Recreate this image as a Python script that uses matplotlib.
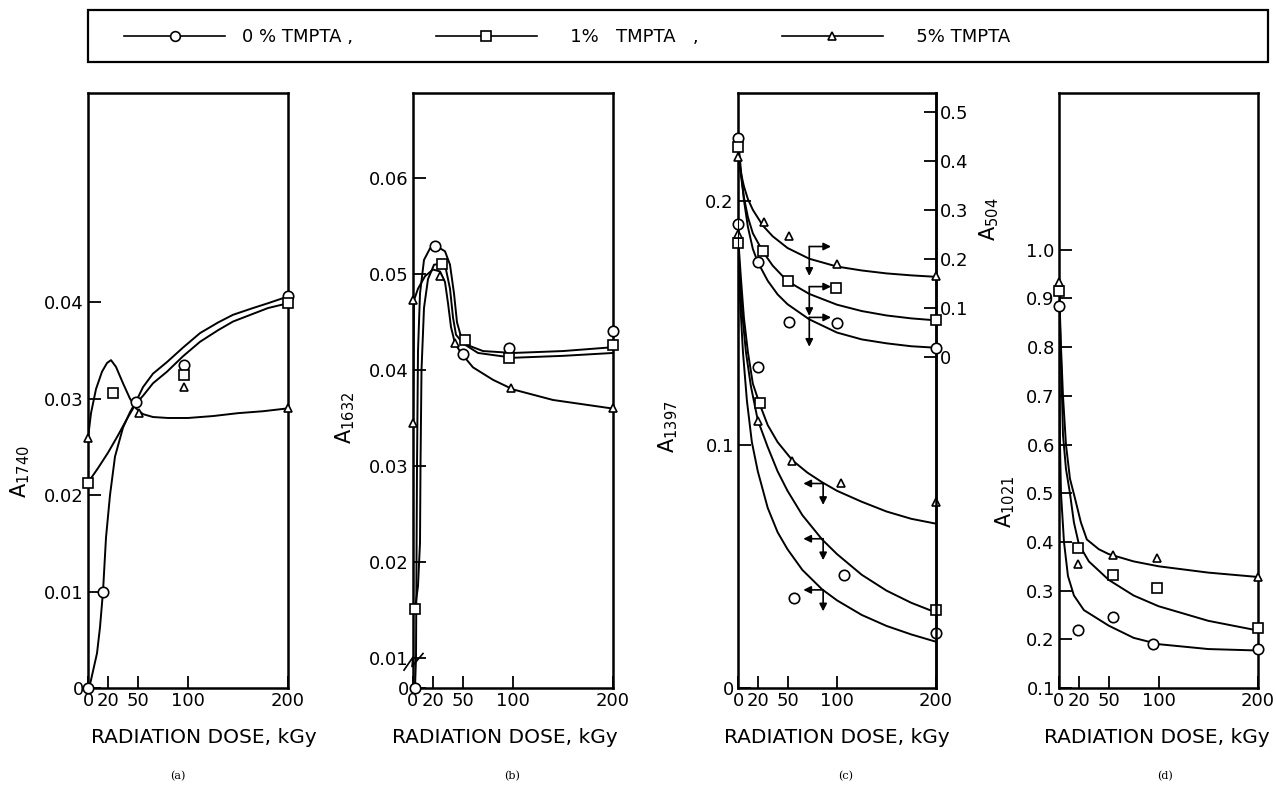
"""
Absorbance vs radiation dose for 0, 1 and 5 % TMPTA, four FTIR bands.
"""
import numpy as np
import matplotlib.pyplot as plt
from matplotlib.lines import Line2D
from matplotlib.patches import Rectangle

plt.rcParams['font.family'] = ['DejaVu Sans']

dose_ticks = [0, 20, 50, 100, 200]
dose_labels = ['0', '20', '50', '100', '200']
legend_labels = ['0 % TMPTA ,', '   1%   TMPTA   ,', '   5% TMPTA']
xlabel = 'RADIATION DOSE, kGy'

# ==============================================================================
# (a) A1740
# ==============================================================================
a_circ_x = [0, 15, 48, 96, 200]
a_circ_y = [0.0, 0.0100, 0.0297, 0.0335, 0.0406]
a_sq_x = [0, 25, 96, 200]
a_sq_y = [0.0213, 0.0306, 0.0325, 0.0399]
a_tri_x = [0, 51, 96, 200]
a_tri_y = [0.0259, 0.0285, 0.0312, 0.0290]

a_circ_fit_x = [0, 2.5, 9, 12, 15, 18, 22, 27, 35, 42, 48, 55, 65, 79, 95, 112, 130, 145, 165, 180, 200]
a_circ_fit_y = [0, 0.0006, 0.0036, 0.0063, 0.0100, 0.0156, 0.0200, 0.0240, 0.0270, 0.0286, 0.0297,
                0.0312, 0.0326, 0.0338, 0.0353, 0.0368, 0.0379, 0.0387, 0.0394, 0.0399, 0.0406]
a_sq_fit_x = [0, 10, 20, 30, 40, 48, 55, 65, 79, 95, 112, 130, 145, 165, 180, 200]
a_sq_fit_y = [0.0213, 0.0228, 0.0244, 0.0262, 0.0281, 0.0295, 0.0303, 0.0316, 0.0328, 0.0344,
              0.0359, 0.0371, 0.0380, 0.0388, 0.0394, 0.0399]
a_tri_fit_x = [0, 3, 8, 14, 19, 23, 28, 35, 42, 48, 55, 65, 80, 100, 125, 150, 175, 200]
a_tri_fit_y = [0.0259, 0.0285, 0.0310, 0.0328, 0.0337, 0.0340, 0.0333, 0.0316, 0.0300, 0.0290,
               0.0284, 0.0281, 0.0280, 0.0280, 0.0282, 0.0285, 0.0287, 0.0290]

# ==============================================================================
# (b) A1632  (axis broken between 0 and 0.01)
# ==============================================================================
b_circ_x = [2, 22, 50, 96, 200]
b_circ_y = [0.0, 0.0530, 0.0417, 0.0423, 0.0441]
b_sq_x = [2, 29, 52, 96, 200]
b_sq_y = [0.0151, 0.0511, 0.0431, 0.0413, 0.0426]
b_tri_x = [0, 0, 27, 42, 98, 200]
b_tri_y = [0.0345, 0.0473, 0.0498, 0.0428, 0.0381, 0.0361]

b_circ_fit_x = [2, 3, 4, 5, 7, 11, 17, 24, 32, 37, 41, 44, 48, 55, 70, 100, 150, 200]
b_circ_fit_y = [0.0, 0.010, 0.030, 0.042, 0.048, 0.0515, 0.0527, 0.0529, 0.0524, 0.0510, 0.0480,
                0.0450, 0.0435, 0.0426, 0.0420, 0.0418, 0.0420, 0.0424]
b_sq_fit_x = [2, 5, 7, 7.5, 8.5, 11, 15, 21, 28, 33, 37, 40, 43, 50, 65, 100, 150, 200]
b_sq_fit_y = [0.0151, 0.0175, 0.022, 0.030, 0.040, 0.0465, 0.0495, 0.0510, 0.0511, 0.0505, 0.0485,
              0.0455, 0.0437, 0.0428, 0.0418, 0.0413, 0.0415, 0.0418]
b_tri_fit_x = [0, 0.5, 1, 5, 12, 20, 27, 32, 35, 38, 42, 48, 60, 80, 100, 140, 200]
b_tri_fit_y = [0.0345, 0.040, 0.0473, 0.0485, 0.0498, 0.0505, 0.0503, 0.0492, 0.0470, 0.0445,
               0.0428, 0.0418, 0.0403, 0.0390, 0.0380, 0.0369, 0.0360]

# ==============================================================================
# (c) A1397 (left axis, lower curves) and A504 (right axis, upper curves)
# ==============================================================================
c_lo_circ_x = [0, 20, 57, 107, 200]
c_lo_circ_y = [0.1905, 0.1317, 0.037, 0.0465, 0.0226]
c_lo_sq_x = [0, 22, 200]
c_lo_sq_y = [0.1827, 0.117, 0.032]
c_lo_tri_x = [0, 20, 55, 104, 200]
c_lo_tri_y = [0.1864, 0.1095, 0.0934, 0.0843, 0.0765]

c_lo_tri_fit_x = [0, 3, 6, 10, 15, 22, 30, 40, 55, 70, 85, 100, 125, 150, 175, 200]
c_lo_tri_fit_y = [0.186, 0.168, 0.152, 0.138, 0.125, 0.1165, 0.108, 0.101, 0.0935, 0.0885,
                  0.0845, 0.081, 0.0765, 0.0725, 0.0695, 0.0675]
c_lo_sq_fit_x = [0, 4, 8, 13, 20, 30, 40, 50, 65, 85, 100, 125, 150, 175, 200]
c_lo_sq_fit_y = [0.183, 0.155, 0.138, 0.124, 0.110, 0.099, 0.089, 0.081, 0.071, 0.061, 0.055,
                 0.0465, 0.040, 0.035, 0.031]
c_lo_circ_fit_x = [0, 2, 5, 9, 14, 20, 30, 40, 50, 65, 85, 100, 125, 150, 175, 200]
c_lo_circ_fit_y = [0.180, 0.160, 0.138, 0.118, 0.101, 0.089, 0.074, 0.064, 0.057, 0.0485, 0.0405,
                   0.036, 0.030, 0.0255, 0.022, 0.019]

c_up_circ_x = [0, 20, 52, 100, 200]
c_up_circ_y = [0.447, 0.193, 0.070, 0.069, 0.018]
c_up_sq_x = [0, 25, 51, 99, 200]
c_up_sq_y = [0.428, 0.215, 0.154, 0.141, 0.074]
c_up_tri_x = [0, 26, 52, 100, 200]
c_up_tri_y = [0.408, 0.275, 0.246, 0.189, 0.164]

c_up_circ_fit_x = [0, 3, 6, 10, 15, 20, 30, 40, 50, 72, 100, 125, 150, 175, 200]
c_up_circ_fit_y = [0.447, 0.38, 0.32, 0.265, 0.22, 0.193, 0.155, 0.127, 0.107, 0.076, 0.049,
                   0.035, 0.027, 0.021, 0.018]
c_up_sq_fit_x = [0, 3, 6, 10, 15, 25, 35, 50, 72, 100, 125, 150, 175, 200]
c_up_sq_fit_y = [0.428, 0.37, 0.325, 0.285, 0.252, 0.215, 0.186, 0.154, 0.128, 0.106, 0.093,
                 0.084, 0.078, 0.074]
c_up_tri_fit_x = [0, 3, 6, 10, 15, 25, 35, 50, 72, 100, 125, 150, 175, 200]
c_up_tri_fit_y = [0.41, 0.375, 0.348, 0.322, 0.30, 0.268, 0.246, 0.222, 0.20, 0.184, 0.176,
                  0.17, 0.166, 0.163]

# arrows telling which axis a curve belongs to
c_up_arrow_y = [0.225, 0.143, 0.080]     # right axis
c_lo_arrow_y = [0.084, 0.0613, 0.0403]   # left axis

# ==============================================================================
# (d) A1021
# ==============================================================================
d_circ_x = [0, 19, 54, 94, 200]
d_circ_y = [0.884, 0.219, 0.246, 0.190, 0.180]
d_sq_x = [0, 19, 54, 98, 200]
d_sq_y = [0.915, 0.388, 0.333, 0.305, 0.223]
d_tri_x = [0, 19, 54, 98, 200]
d_tri_y = [0.933, 0.355, 0.374, 0.367, 0.328]

d_tri_fit_x = [0, 2, 4, 7, 11, 16, 22, 28, 40, 50, 75, 100, 150, 200]
d_tri_fit_y = [0.93, 0.80, 0.70, 0.60, 0.53, 0.49, 0.44, 0.405, 0.385, 0.375, 0.36, 0.35, 0.337, 0.328]
d_sq_fit_x = [0, 2, 4, 7, 11, 15, 20, 30, 50, 75, 100, 150, 200]
d_sq_fit_y = [0.915, 0.78, 0.62, 0.55, 0.50, 0.44, 0.395, 0.36, 0.322, 0.29, 0.268, 0.238, 0.218]
d_circ_fit_x = [0, 1, 2, 5, 9, 15, 25, 50, 75, 100, 150, 200]
d_circ_fit_y = [0.88, 0.60, 0.50, 0.40, 0.33, 0.29, 0.26, 0.228, 0.203, 0.19, 0.18, 0.177]

# ==============================================================================
# drawing helpers
# ==============================================================================
MK = {'o': 7.5, 's': 7.0, '^': 6.0}


def draw(ax, fx, fy, mx, my, m):
    ax.plot(fx, fy, color='black', lw=1.4, zorder=2)
    ax.plot(mx, my, ls='none', marker=m, ms=MK[m], mfc='white', mec='black',
            mew=1.2, zorder=5, clip_on=False)


def setup(ax, yticks, ylabels, ylim, ylab, ylab_xy, xlab_x):
    ax.set_xlim(0, 200)
    ax.set_ylim(*ylim)
    ax.set_xticks(dose_ticks)
    ax.set_xticklabels(dose_labels)
    ax.set_yticks(yticks)
    ax.set_yticklabels(ylabels)
    ax.tick_params(direction='in', length=9, width=1.3, labelsize=13, pad=3)
    for sp in ax.spines.values():
        sp.set_linewidth(1.8)
    ax.set_xlabel(xlabel, fontsize=14.5)
    ax.xaxis.set_label_coords(xlab_x, -0.068)
    ax.set_ylabel(ylab, fontsize=15)
    ax.yaxis.label.set_va('center')
    ax.yaxis.set_label_coords(*ylab_xy)


W, H = 1276, 787
fig = plt.figure(figsize=(W / 100, H / 100), dpi=100)


def rect(left, width):
    return [left / W, 1 - 688 / H, width / W, 595 / H]


# ---- (a)
ax_a = fig.add_axes(rect(88, 200))
draw(ax_a, a_circ_fit_x, a_circ_fit_y, a_circ_x, a_circ_y, 'o')
draw(ax_a, a_sq_fit_x, a_sq_fit_y, a_sq_x, a_sq_y, 's')
draw(ax_a, a_tri_fit_x, a_tri_fit_y, a_tri_x, a_tri_y, '^')
setup(ax_a, [0, 0.01, 0.02, 0.03, 0.04], ['0', '0.01', '0.02', '0.03', '0.04'],
      (0, 0.0617), r'A$_{\mathregular{1740}}$', (-0.34, 0.363), 0.58)

# ---- (b) with broken axis below 0.01
def b_fwd(y):
    y = np.asarray(y, float)
    return np.where(y < 0.01, 0.006875 + y * 0.3125, y)


def b_inv(y):
    y = np.asarray(y, float)
    return np.where(y < 0.006875 + 0.003125, (y - 0.006875) / 0.3125, y)


ax_b = fig.add_axes(rect(413, 200))
ax_b.set_yscale('function', functions=(b_fwd, b_inv))
draw(ax_b, b_circ_fit_x, b_circ_fit_y, b_circ_x, b_circ_y, 'o')
draw(ax_b, b_sq_fit_x, b_sq_fit_y, b_sq_x, b_sq_y, 's')
draw(ax_b, b_tri_fit_x, b_tri_fit_y, b_tri_x, b_tri_y, '^')
setup(ax_b, [0, 0.01, 0.02, 0.03, 0.04, 0.05, 0.06],
      ['0', '0.01', '0.02', '0.03', '0.04', '0.05', '0.06'],
      (0, 0.0689), r'A$_{\mathregular{1632}}$', (-0.34, 0.454), 0.46)
ax_b.yaxis.set_minor_locator(plt.NullLocator())
# break mark on the y axis
ax_b.plot([-0.045, 0.0, -0.005, 0.05], [0.030, 0.052, 0.036, 0.058], color='black',
          lw=1.2, transform=ax_b.transAxes, clip_on=False, zorder=6)

# ---- (c) two y axes
ax_c = fig.add_axes(rect(738, 198))
draw(ax_c, c_lo_circ_fit_x, c_lo_circ_fit_y, c_lo_circ_x, c_lo_circ_y, 'o')
draw(ax_c, c_lo_sq_fit_x, c_lo_sq_fit_y, c_lo_sq_x, c_lo_sq_y, 's')
draw(ax_c, c_lo_tri_fit_x, c_lo_tri_fit_y, c_lo_tri_x, c_lo_tri_y, '^')
setup(ax_c, [0, 0.1, 0.2], ['0', '0.1', '0.2'], (0, 0.2444),
      r'A$_{\mathregular{1397}}$', (-0.354, 0.439), 0.5)
tw = ax_c.twinx()
draw(tw, c_up_circ_fit_x, c_up_circ_fit_y, c_up_circ_x, c_up_circ_y, 'o')
draw(tw, c_up_sq_fit_x, c_up_sq_fit_y, c_up_sq_x, c_up_sq_y, 's')
draw(tw, c_up_tri_fit_x, c_up_tri_fit_y, c_up_tri_x, c_up_tri_y, '^')
tw.set_ylim(-0.678, 0.539)
tw.set_yticks([0, 0.1, 0.2, 0.3, 0.4, 0.5])
tw.set_yticklabels(['0', '0.1', '0.2', '0.3', '0.4', '0.5'])
tw.tick_params(direction='in', length=9, width=1.3, labelsize=13, pad=3)
tw.spines['right'].set_linewidth(1.8)
tw.set_ylabel(r'A$_{\mathregular{504}}$', fontsize=15, rotation=90)
tw.yaxis.label.set_va('center')
tw.yaxis.set_label_coords(1.27, 0.787)

arr = dict(arrowstyle='-|>', color='black', lw=1.2, mutation_scale=11, shrinkA=0, shrinkB=0)
for yy in c_up_arrow_y:
    tw.annotate('', xy=(94, yy), xytext=(72, yy), arrowprops=arr)
    tw.annotate('', xy=(72, yy - 0.06), xytext=(72, yy), arrowprops=arr)
for yy in c_lo_arrow_y:
    ax_c.annotate('', xy=(66, yy), xytext=(86, yy), arrowprops=arr)
    ax_c.annotate('', xy=(86, yy - 0.0088), xytext=(86, yy), arrowprops=arr)

# ---- (d)
ax_d = fig.add_axes(rect(1059, 199))
draw(ax_d, d_circ_fit_x, d_circ_fit_y, d_circ_x, d_circ_y, 'o')
draw(ax_d, d_sq_fit_x, d_sq_fit_y, d_sq_x, d_sq_y, 's')
draw(ax_d, d_tri_fit_x, d_tri_fit_y, d_tri_x, d_tri_y, '^')
d_ticks = [0.1, 0.2, 0.3, 0.4, 0.5, 0.6, 0.7, 0.8, 0.9, 1.0]
setup(ax_d, d_ticks, ['%.1f' % t for t in d_ticks], (0.1, 1.322),
      r'A$_{\mathregular{1021}}$', (-0.27, 0.313), 0.49)

# panel letters
for x, s in zip([178, 512, 846, 1165], ['(a)', '(b)', '(c)', '(d)']):
    fig.text(x / W, 1 - 776 / H, s, ha='center', va='center', fontsize=8, family='DejaVu Serif')

# ---- legend across the top
handles = [Line2D([], [], color='black', lw=1.2, marker=m, ms=MK[m] - 0.5, mfc='white',
                  mec='black', mew=1.2) for m in ['o', 's', '^']]
fig.legend(handles, legend_labels, loc='center left', bbox_to_anchor=(108 / W, 1 - 37 / H),
           ncol=3, frameon=False, handlelength=5.6, handletextpad=0.9, columnspacing=4.6,
           fontsize=13)
fig.patches.append(Rectangle((88 / W, 1 - 62 / H), 1180 / W, 52 / H, transform=fig.transFigure,
                             fill=False, edgecolor='black', lw=1.6))

fig.savefig('out.png', dpi=100)
